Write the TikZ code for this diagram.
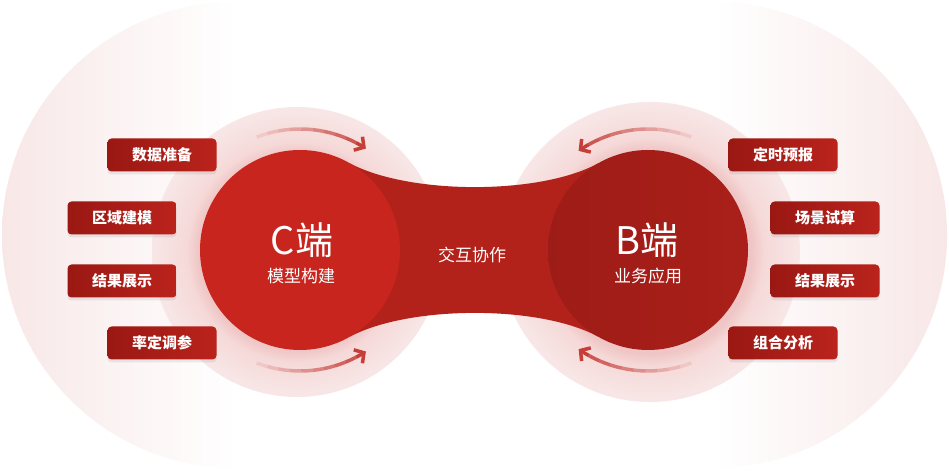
\documentclass[tikz,border=0pt]{standalone}
\usepackage{fontspec}
\setmainfont{Noto Sans CJK SC}
\usepackage{xcolor}
\usepackage{tikz}
\usetikzlibrary{arrows.meta,shadows}

\definecolor{cRed}{HTML}{C8251E}
\definecolor{bridgeRed}{HTML}{B3211B}
\definecolor{bRed}{HTML}{AA1F19}
\definecolor{bDark}{HTML}{9E1C17}
\definecolor{tagDark}{HTML}{9A1813}
\definecolor{tagLight}{HTML}{BA231C}
\definecolor{haloPink}{HTML}{EFC6C5}
\definecolor{haloMid}{HTML}{F5D9D8}
\definecolor{haloEdge}{HTML}{F8E7E7}
\definecolor{paleRim}{HTML}{F8E7E7}
\definecolor{arcRed}{HTML}{C63E38}

\pgfdeclarehorizontalshading{paleleft}{100bp}{color(0bp)=(paleRim); color(25bp)=(paleRim); color(50bp)=(white); color(100bp)=(white)}
\pgfdeclarehorizontalshading{paleright}{100bp}{color(0bp)=(white); color(50bp)=(white); color(75bp)=(paleRim); color(100bp)=(paleRim)}
\pgfdeclareradialshading{halo}{\pgfpoint{0bp}{0bp}}{color(0bp)=(haloPink); color(17bp)=(haloPink); color(19bp)=(haloMid); color(25bp)=(haloEdge); color(50bp)=(haloEdge)}

\tikzset{
  hub/.style={circle, minimum size=200pt, inner sep=0pt},
  tagbox/.style={rounded corners=4pt, minimum width=109pt, minimum height=33pt, inner sep=0pt, text=white,
    font=\bfseries\fontsize{15}{15}\selectfont, left color=tagDark, right color=tagLight,
    drop shadow={opacity=0.15, shadow xshift=0pt, shadow yshift=-3pt}},
  hubtitle/.style={text=white, font=\fontsize{38}{38}\selectfont},
  hubsub/.style={text=white, font=\fontsize{17}{17}\selectfont},
  spin/.style={arcRed, line width=3.5pt}
}

\newcommand{\turnarrow}[3]{%
  \foreach \k in {0,...,8}{
    \pgfmathsetmacro{\angA}{#2+(#3-#2)*\k/10}
    \pgfmathsetmacro{\angB}{#2+(#3-#2)*(\k+1)/10}
    \pgfmathsetmacro{\segop}{0.12+0.09*\k}
    \draw[spin, draw opacity=\segop] ([shift={(\angA:121pt)}]#1.center) arc[start angle=\angA, end angle=\angB, radius=121pt];
  }
  \pgfmathsetmacro{\angA}{#2+(#3-#2)*0.9}
  \draw[spin, -{Straight Barb[length=7pt,width=16pt]}] ([shift={(\angA:121pt)}]#1.center) arc[start angle=\angA, end angle=#3, radius=121pt];
}

\begin{document}
\begin{tikzpicture}[x=1pt,y=1pt]
\useasboundingbox (0,0) rectangle (949,471);
\fill[white] (0,0) rectangle (949,471);
\shade[shading=paleleft] (235,236) circle (233pt);
\shade[shading=paleright] (714,236) circle (233pt);
\shade[shading=halo] (297,219) circle (145pt);
\shade[shading=halo] (650,219) circle (150pt);
\fill[bridgeRed] (350,307.6) .. controls (410,276) and (540,276) .. (598,307.6) -- (598,134.4) .. controls (540,166) and (410,166) .. (350,134.4) -- cycle;

\node[hub, fill=cRed] (cHub) at (300,221) {};
\node[hub, left color=bDark, right color=bRed] (bHub) at (648,221) {};

\turnarrow{cHub}{111}{57}
\turnarrow{cHub}{249}{303}
\turnarrow{bHub}{69}{125}
\turnarrow{bHub}{291}{235}

\node[hubtitle] (cTitle) at (302,231) {C端};
\node[hubsub] (cRole) at (301,195) {模型构建};
\node[hubsub] (link) at (472,216) {交互协作};
\node[hubtitle] (bTitle) at (647,231) {B端};
\node[hubsub] (bRole) at (648,195) {业务应用};

\node[tagbox] (cPrep) at (162,316) {数据准备};
\node[tagbox] (cZone) at (122,253) {区域建模};
\node[tagbox] (cShow) at (122,190) {结果展示};
\node[tagbox] (cTune) at (162,128) {率定调参};
\node[tagbox] (bCast) at (783,316) {定时预报};
\node[tagbox] (bTrial) at (825,253) {场景试算};
\node[tagbox] (bShow) at (825,190) {结果展示};
\node[tagbox] (bMix) at (783,128) {组合分析};
\end{tikzpicture}
\end{document}
